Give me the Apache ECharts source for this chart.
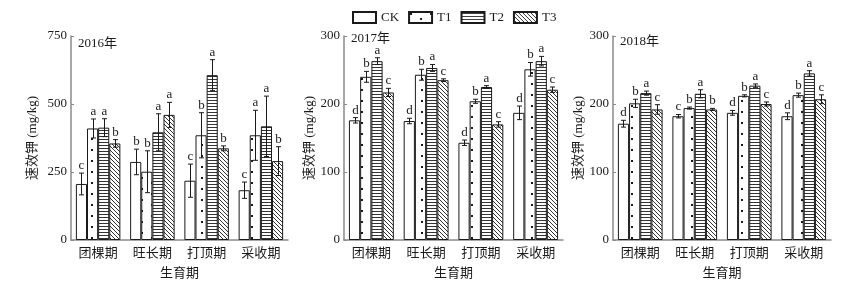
<!DOCTYPE html>
<html><head><meta charset="utf-8">
<script src="https://cdn.jsdelivr.net/npm/echarts@6/dist/echarts.min.js"></script>
<style>html,body{margin:0;padding:0;background:#fff}#c{width:858px;height:288px}</style>
</head><body><div id="c"></div>
<script>
const categories = ['团棵期','旺长期','打顶期','采收期'];
const treatments = ['CK','T1','T2','T3'];
const years = ['2016年','2017年','2018年'];
const yTicks2016 = [0, 250, 500, 750];
const yTicks2017 = [0, 100, 200, 300];
const yTicks2018 = [0, 100, 200, 300];

// 2016
const ck2016 = [206, 287, 218, 183];
const t1_2016 = [410, 251, 385, 385];
const t2_2016 = [413, 396, 606, 418];
const t3_2016 = [355, 460, 337, 290];
const ck2016Err = [40, 47, 61, 30];
const t1_2016Err = [35, 77, 83, 92];
const t2_2016Err = [33, 68, 57, 111];
const t3_2016Err = [14, 46, 9, 53];
const ck2016Sig = ['c','b','c','c'];
const t1_2016Sig = ['a','b','b','a'];
const t2_2016Sig = ['a','a','a','a'];
const t3_2016Sig = ['b','a','b','b'];

// 2017
const ck2017 = [176, 175, 143, 187];
const t1_2017 = [240, 243, 204, 251];
const t2_2017 = [263, 253, 225, 263];
const t3_2017 = [217, 235, 170, 221];
const ck2017Err = [4, 4, 4, 10];
const t1_2017Err = [8, 8, 3, 10];
const t2_2017Err = [5, 5, 2, 7];
const t3_2017Err = [6, 2, 4, 4];
const ck2017Sig = ['d','d','d','d'];
const t1_2017Sig = ['b','b','b','b'];
const t2_2017Sig = ['a','a','a','a'];
const t3_2017Sig = ['c','c','c','c'];

// 2018
const ck2018 = [171, 182, 187, 182];
const t1_2018 = [201, 194, 212, 213];
const t2_2018 = [216, 215, 227, 245];
const t3_2018 = [192, 192, 200, 207];
const ck2018Err = [5, 2.5, 3.5, 5];
const t1_2018Err = [6, 1.5, 1.5, 3];
const t2_2018Err = [3, 6, 2.5, 4];
const t3_2018Err = [7, 1.5, 3, 6.5];
const ck2018Sig = ['d','c','d','d'];
const t1_2018Sig = ['b','b','b','b'];
const t2_2018Sig = ['a','a','a','a'];
const t3_2018Sig = ['c','b','c','c'];

const panels = [
  {vals:[ck2016,t1_2016,t2_2016,t3_2016], errs:[ck2016Err,t1_2016Err,t2_2016Err,t3_2016Err], sigs:[ck2016Sig,t1_2016Sig,t2_2016Sig,t3_2016Sig], ticks:yTicks2016},
  {vals:[ck2017,t1_2017,t2_2017,t3_2017], errs:[ck2017Err,t1_2017Err,t2_2017Err,t3_2017Err], sigs:[ck2017Sig,t1_2017Sig,t2_2017Sig,t3_2017Sig], ticks:yTicks2017},
  {vals:[ck2018,t1_2018,t2_2018,t3_2018], errs:[ck2018Err,t1_2018Err,t2_2018Err,t3_2018Err], sigs:[ck2018Sig,t1_2018Sig,t2_2018Sig,t3_2018Sig], ticks:yTicks2018}
];

const FONT = '"Liberation Serif","Noto Sans CJK SC",serif';
const INK = '#1a1a1a';
const AXIS = '#8a8a8a';

function mk(w, h, draw) {
  const c = document.createElement('canvas');
  c.width = w; c.height = h;
  const g = c.getContext('2d');
  g.fillStyle = '#fff'; g.fillRect(0, 0, w, h);
  g.fillStyle = '#1a1a1a';
  draw(g);
  return c;
}
const patDots = mk(20, 11, g => { g.fillRect(1, 1, 2, 2); g.fillRect(11, 6, 2, 2); });
const patHoriz = mk(4, 3, g => { g.fillStyle = '#333'; g.fillRect(0, 1, 4, 1); });
const patDiag = mk(4, 4, g => { g.fillStyle = '#333'; for (let i = 0; i < 4; i++) g.fillRect(i, i, 1, 1); });
const fills = ['#ffffff', {image: patDots, repeat: 'repeat'}, {image: patHoriz, repeat: 'repeat'}, {image: patDiag, repeat: 'repeat'}];

const gridDefs = [
  {left: 71, width: 217, top: 36, height: 204},
  {left: 344, width: 219, top: 36, height: 204},
  {left: 613, width: 218, top: 36, height: 204}
];
const yNameGaps = [32, 28, 28];
const titlePos = [[78, 37], [351, 32], [620, 35]];
const BARFRAC = 0.205;

const grid = [], xAxis = [], yAxis = [], series = [], graphic = [];
panels.forEach((p, k) => {
  grid.push(gridDefs[k]);
  xAxis.push({
    type: 'category', gridIndex: k, data: categories,
    name: '生育期', nameLocation: 'middle', nameGap: 27,
    nameTextStyle: {fontFamily: FONT, fontSize: 13, color: INK},
    axisLine: {lineStyle: {color: AXIS, width: 1.5}},
    axisTick: {alignWithLabel: true, length: 4, inside: false, lineStyle: {color: AXIS}},
    axisLabel: {fontFamily: FONT, fontSize: 13, color: INK, margin: 7}
  });
  const t = p.ticks;
  yAxis.push({
    type: 'value', gridIndex: k, min: t[0], max: t[t.length - 1], interval: t[1] - t[0],
    name: '速效钾 (mg/kg)', nameLocation: 'middle', nameGap: yNameGaps[k],
    nameTextStyle: {fontFamily: FONT, fontSize: 13, color: INK},
    axisLine: {show: true, lineStyle: {color: AXIS, width: 1.5}},
    axisTick: {show: true, inside: true, length: 3, lineStyle: {color: AXIS}},
    splitLine: {show: false},
    axisLabel: {fontFamily: FONT, fontSize: 13, color: INK, margin: 4}
  });
  treatments.forEach((tn, i) => {
    series.push({
      type: 'bar', name: tn, xAxisIndex: k, yAxisIndex: k,
      data: p.vals[i], barWidth: (BARFRAC * 100) + '%', barGap: '0%',
      itemStyle: {color: fills[i], borderColor: INK, borderWidth: 1},
      emphasis: {disabled: true}, animation: false
    });
  });
  const rows = [];
  treatments.forEach((tn, i) => {
    categories.forEach((c, j) => {
      rows.push({cat: j, t: i, v: p.vals[i][j], e: p.errs[i][j], s: p.sigs[i][j]});
    });
  });
  series.push({
    type: 'custom', xAxisIndex: k, yAxisIndex: k, z: 10, animation: false, silent: true,
    data: rows.map(r => [r.cat, r.v + r.e, r.v - r.e]),
    encode: {x: 0, y: [1, 2]},
    renderItem: function (params, api) {
      const r = rows[params.dataIndex];
      const band = api.size([1, 0])[0];
      const bw = band * BARFRAC;
      const c = api.coord([r.cat, r.v]);
      const x = Math.round(c[0] + (r.t - 1.5) * bw) + 0.5;
      const yT = api.coord([r.cat, r.v + r.e])[1];
      const yB = api.coord([r.cat, r.v - r.e])[1];
      const st = {stroke: INK, lineWidth: 1};
      return {
        type: 'group', children: [
          {type: 'line', shape: {x1: x, y1: yT, x2: x, y2: yB}, style: st},
          {type: 'line', shape: {x1: x - 2.5, y1: yT, x2: x + 2.5, y2: yT}, style: st},
          {type: 'line', shape: {x1: x - 2.5, y1: yB, x2: x + 2.5, y2: yB}, style: st},
          {type: 'text', style: {text: r.s, x: x, y: yT - 1, textAlign: 'center', textVerticalAlign: 'bottom', font: '13px ' + FONT, fill: INK}}
        ]
      };
    }
  });
  graphic.push({type: 'text', left: titlePos[k][0], top: titlePos[k][1], style: {text: years[k], font: '13px ' + FONT, fill: INK}});
});

const chart = echarts.init(document.getElementById('c'), null, {renderer: 'canvas'});
chart.setOption({
  animation: false,
  backgroundColor: '#fff',
  legend: {
    data: treatments, left: 347, top: 6, itemWidth: 23, itemHeight: 11, itemGap: 9,
    icon: 'rect',
    textStyle: {fontFamily: FONT, fontSize: 13, color: INK}
  },
  grid, xAxis, yAxis, series, graphic
});
</script></body></html>
